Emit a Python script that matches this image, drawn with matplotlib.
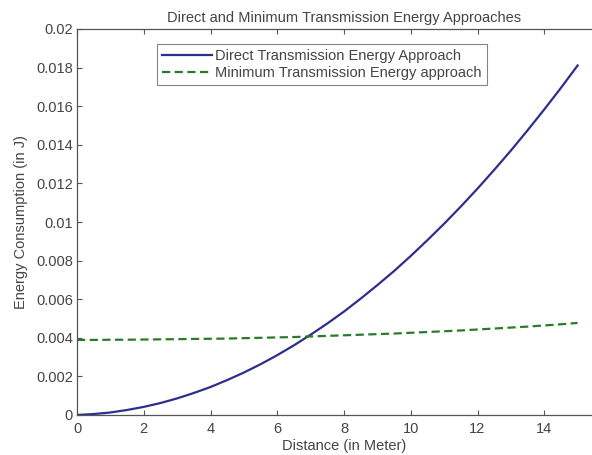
import matplotlib
matplotlib.use("Agg")
import matplotlib.pyplot as plt

plt.rcParams['font.family'] = ['Liberation Sans', 'DejaVu Sans']

distance = [0, 0.5, 1, 1.5, 2, 2.5, 3, 3.5, 4, 4.5, 5, 5.5, 6, 6.5, 7, 7.5,
            8, 8.5, 9, 9.5, 10, 10.5, 11, 11.5, 12, 12.5, 13, 13.5, 14, 14.5, 15]
direct_energy = [0.00000, 0.00005, 0.00013, 0.00026, 0.00042, 0.00062, 0.00086,
                 0.00114, 0.00145, 0.00181, 0.00220, 0.00263, 0.00310, 0.00361,
                 0.00416, 0.00474, 0.00536, 0.00603, 0.00673, 0.00746, 0.00824,
                 0.00906, 0.00991, 0.01080, 0.01173, 0.01270, 0.01370, 0.01475,
                 0.01583, 0.01695, 0.01811]
mte_energy = [0.00389, 0.00389, 0.00390, 0.00390, 0.00391, 0.00392, 0.00393,
              0.00394, 0.00395, 0.00396, 0.00398, 0.00400, 0.00402, 0.00404,
              0.00407, 0.00410, 0.00413, 0.00416, 0.00419, 0.00422, 0.00426,
              0.00430, 0.00434, 0.00438, 0.00443, 0.00448, 0.00453, 0.00458,
              0.00464, 0.00470, 0.00477]
x_ticks = [0, 2, 4, 6, 8, 10, 12, 14]
y_ticks = [0, 0.002, 0.004, 0.006, 0.008, 0.01, 0.012, 0.014, 0.016, 0.018, 0.02]
y_tick_labels = ['0', '0.002', '0.004', '0.006', '0.008', '0.01', '0.012',
                 '0.014', '0.016', '0.018', '0.02']

W, H = 592, 455
fig = plt.figure(figsize=(W / 100, H / 100), dpi=100)
ax = fig.add_axes([77 / W, 40 / H, 534 / W, 386 / H])

txt = '#444444'
fs = 10.5
ax.plot(distance, direct_energy, '-', color='#2e2e8c', lw=1.6,
        label='Direct Transmission Energy Approach')
ax.plot(distance, mte_energy, '--', color='#2a7a2a', lw=1.6, dashes=(3.7, 2),
        label='Minimum Transmission Energy approach')

ax.set_xlim(0, 16)
ax.set_ylim(0, 0.02)
ax.set_xticks(x_ticks)
ax.set_yticks(y_ticks)
ax.set_yticklabels(y_tick_labels)
ax.tick_params(direction='in', top=True, right=True, length=3.5, width=0.8,
               labelsize=fs, colors='#555555', labelcolor=txt, pad=3)
ax.tick_params(axis='x', pad=5)
for s in ax.spines.values():
    s.set_color('#555555')
    s.set_linewidth(0.9)

ax.set_title('Direct and Minimum Transmission Energy Approaches', fontsize=fs,
             color=txt, pad=5)
ax.set_xlabel('Distance (in Meter)', fontsize=fs, color=txt, labelpad=2)
ax.set_ylabel('Energy Consumption (in J)', fontsize=fs, color=txt, labelpad=6)

leg = ax.legend(loc='upper left', bbox_to_anchor=(0.15, 0.961), fontsize=fs,
                frameon=True, fancybox=False, edgecolor='#666666',
                handlelength=3.4, handletextpad=0.25, borderpad=0.35,
                labelspacing=0.2, borderaxespad=0)
leg.get_frame().set_linewidth(0.8)
for t in leg.get_texts():
    t.set_color(txt)

fig.savefig('out.png', dpi=100)
